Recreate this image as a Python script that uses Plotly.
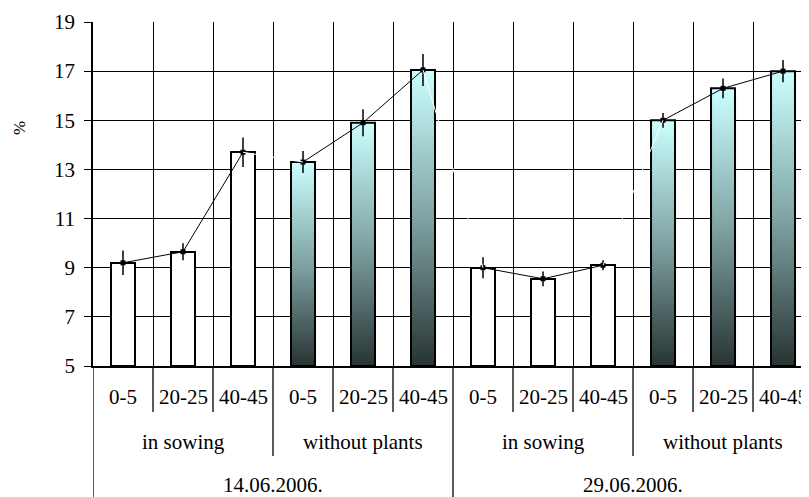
import plotly.graph_objects as go

# ---- data ----
depths = ["0-5", "20-25", "40-45"] * 4
groups = ["in sowing", "without plants", "in sowing", "without plants"]
dates = ["14.06.2006.", "29.06.2006."]
values = [9.2, 9.65, 13.7, 13.3, 14.9, 17.05, 9.0, 8.55, 9.1, 15.0, 16.3, 17.0]
errors = [0.5, 0.35, 0.6, 0.45, 0.55, 0.65, 0.43, 0.3, 0.2, 0.3, 0.4, 0.45]
gradient_group = [False, True, False, True]  # "without plants" bars are shaded
y_ticks = [5, 7, 9, 11, 13, 15, 17, 19]

FONT = "Liberation Serif, Times New Roman, serif"
BASE = 5
BW = 0.4
n = len(values)

fig = go.Figure()

# white bars (in sowing)
wx, wy = [], []
for g, grad in enumerate(gradient_group):
    if not grad:
        for k in range(3):
            i = g * 3 + k
            wx.append(i)
            wy.append(values[i] - BASE)
fig.add_trace(go.Bar(x=wx, y=wy, base=BASE, width=BW,
                     marker=dict(color="white", line=dict(color="black", width=2)),
                     showlegend=False, hoverinfo="skip"))

# gradient bars (without plants)
cs = [[0, "#283333"], [0.5, "#7fa3a3"], [1, "#ccffff"]]
for g, grad in enumerate(gradient_group):
    if grad:
        for k in range(3):
            i = g * 3 + k
            v = values[i]
            fig.add_trace(go.Scatter(
                x=[i - BW / 2, i + BW / 2, i + BW / 2, i - BW / 2, i - BW / 2],
                y=[BASE, BASE, v, v, BASE],
                mode="lines", fill="toself",
                fillgradient=dict(type="vertical", colorscale=cs, start=BASE, stop=v),
                line=dict(color="black", width=2),
                showlegend=False, hoverinfo="skip"))

# white connecting segments between groups
lx, ly = [], []
for g in range(len(groups) - 1):
    a = g * 3 + 2
    b = a + 1
    lx += [a, b, None]
    ly += [values[a], values[b], None]

# black lines with markers + error bars per group
for g in range(len(groups)):
    idx = list(range(g * 3, g * 3 + 3))
    fig.add_trace(go.Scatter(
        x=idx, y=[values[i] for i in idx], mode="lines+markers",
        line=dict(color="black", width=1),
        marker=dict(symbol="square", size=5, color="black"),
        error_y=dict(type="data", array=[errors[i] for i in idx], visible=True,
                     color="black", thickness=1.5, width=0),
        showlegend=False, hoverinfo="skip"))

fig.add_trace(go.Scatter(x=lx, y=ly, mode="lines", line=dict(color="white", width=1),
                         showlegend=False, hoverinfo="skip"))

# ---- hierarchical labels ----
LS = 21
ann = []
for i, d in enumerate(depths):
    ann.append(dict(x=i, y=-(397 - 366) / 344, xref="x", yref="paper", text=d, showarrow=False,
                    yanchor="middle", font=dict(family=FONT, size=LS, color="black")))
for g, name in enumerate(groups):
    ann.append(dict(x=g * 3 + 1, y=-(442 - 366) / 344, xref="x", yref="paper", text=name,
                    showarrow=False, yanchor="middle",
                    font=dict(family=FONT, size=LS, color="black")))
for d, name in enumerate(dates):
    ann.append(dict(x=d * 6 + 2.5, y=-(485 - 366) / 344, xref="x", yref="paper", text=name,
                    showarrow=False, yanchor="middle",
                    font=dict(family=FONT, size=LS, color="black")))
ann.append(dict(x=-(93 - 19) / 716, y=(366 - 128) / 344, xref="paper", yref="paper",
                text="%", showarrow=False, xanchor="center", yanchor="middle",
                textangle=-90, font=dict(family=FONT, size=17, color="black")))

shapes = []
for b in range(n + 1):
    pos = b - 0.5
    if b % 6 == 0:
        y1 = -0.40
    elif b % 3 == 0:
        y1 = -(456 - 366) / 344
    else:
        y1 = -(412 - 366) / 344
    shapes.append(dict(type="line", xref="x", yref="paper", x0=pos, x1=pos, y0=0, y1=y1,
                       line=dict(color="black", width=1.3)))

fig.update_layout(
    width=801, height=489,
    margin=dict(l=85, r=0, t=14, b=131),
    paper_bgcolor="white", plot_bgcolor="white",
    bargap=0, barmode="overlay",
    annotations=ann, shapes=shapes,
    xaxis=dict(range=[-0.5, 11.433], tickvals=[b - 0.5 for b in range(n + 1)],
               showticklabels=False, ticks="", showgrid=True, gridcolor="black", gridwidth=1,
               showline=True, linecolor="black", linewidth=2, zeroline=False, fixedrange=True),
    yaxis=dict(range=[5, 19], tickvals=y_ticks, ticks="outside", ticklen=7, tickcolor="black",
               tickwidth=1, showgrid=True, gridcolor="black", gridwidth=1,
               showline=True, linecolor="black", linewidth=1.5, zeroline=False,
               tickfont=dict(family=FONT, size=21, color="black"), ticklabelstandoff=5),
)

fig.write_html("out.html")
